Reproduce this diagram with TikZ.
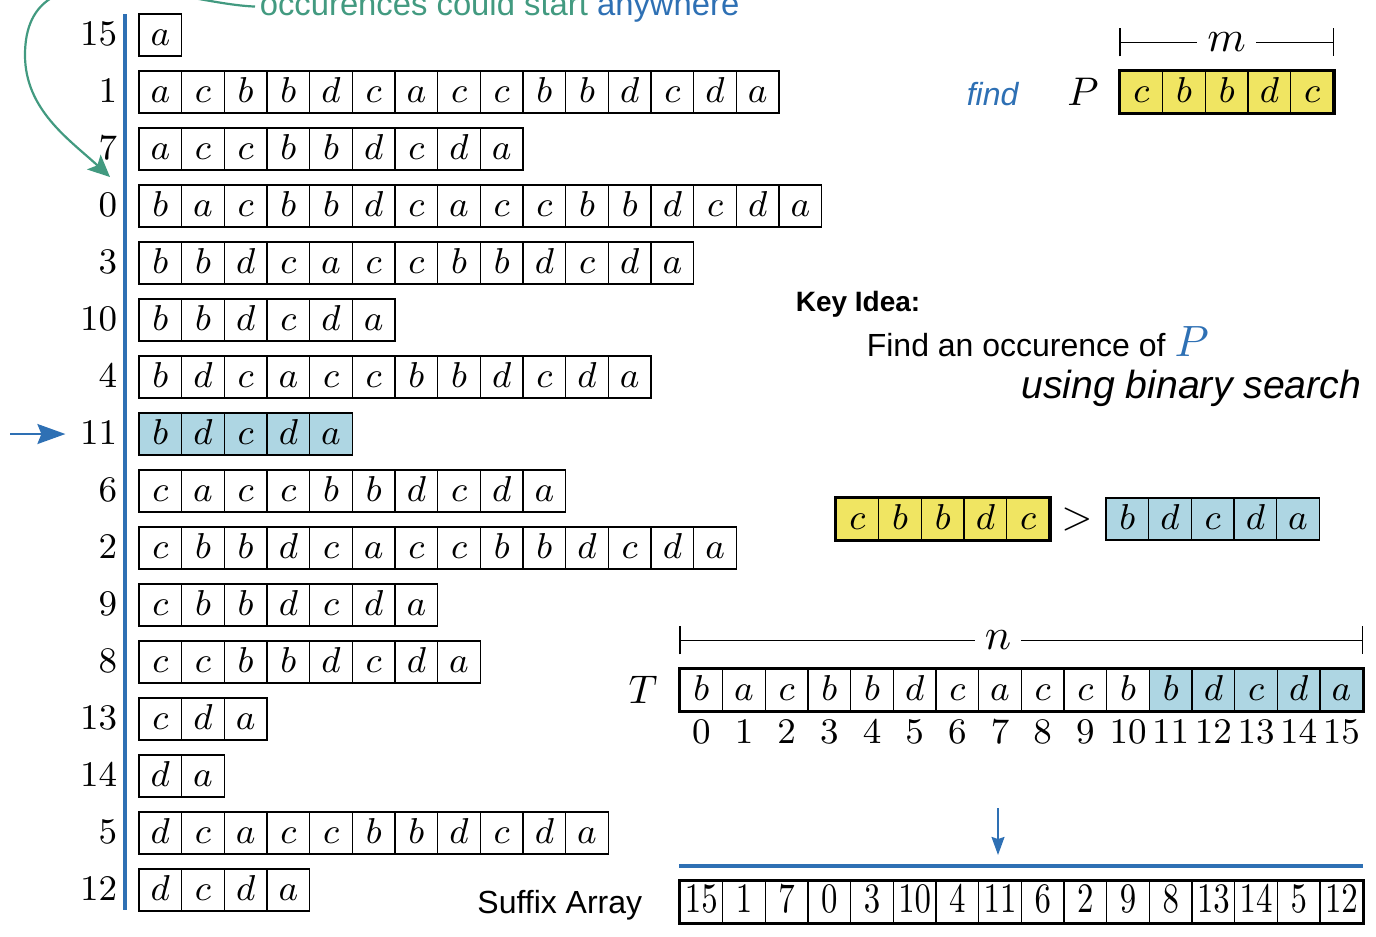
\documentclass[tikz,border=0pt]{standalone}
\usepackage{graphicx}
\usepackage{fontspec}
\newfontfamily\helv{Liberation Sans}
\usetikzlibrary{arrows.meta,calc,positioning}

\definecolor{sablue}{RGB}{46,112,180}
\definecolor{sagreen}{RGB}{66,154,128}
\definecolor{cellblue}{RGB}{174,214,227}
\definecolor{cellyellow}{RGB}{240,229,98}

\tikzset{
  cell/.style={draw,line width=.35pt,minimum width=10.67pt,minimum height=10.5pt,inner sep=0pt,
    text height=6.25pt,text depth=1pt,font=\fontsize{9}{11}\selectfont},
  hit/.style={cell,fill=cellblue},
  pat/.style={cell,fill=cellyellow},
  frame/.style={line width=.85pt},
  lab/.style={inner sep=0pt,text height=6.25pt,text depth=1pt,font=\fontsize{9}{11}\selectfont},
  sym/.style={inner sep=0pt,font=\fontsize{10}{12}\selectfont},
  dim/.style={line width=.35pt,{Bar[width=7pt]}-{Bar[width=7pt]}},
  gap/.style={fill=white,inner sep=2.5pt,font=\fontsize{11}{13}\selectfont},
  sans/.style={inner sep=0pt,font=\helv\fontsize{8}{10}\selectfont},
}
\def\Tstr{{"b","a","c","b","b","d","c","a","c","c","b","b","d","c","d","a"}}

\begin{document}
\begin{tikzpicture}[x=0.25pt,y=-0.25pt]
\clip (0,0) rectangle (1376,936);

% sorted suffixes
\draw[sablue,line width=1pt] (125,14) -- (125,910);
\foreach \s [count=\r from 0] in {15,1,7,0,3,10,4,11,6,2,9,8,13,14,5,12}{
  \node[lab,anchor=east] (l\r) at (118,{35+57*\r}) {$\s$};
  \ifnum\s=11 \tikzset{cur/.style={hit}}\else\tikzset{cur/.style={cell}}\fi
  \foreach \j in {\s,...,15}{
    \pgfmathtruncatemacro\k{\j-\s}
    \pgfmathparse{\Tstr[\j]}\let\ch\pgfmathresult
    \node[cur] (s\r-\k) at ({160.33+42.67*\k},{35+57*\r}) {$\ch$};
  }
}

% remark on top
\node[sans,anchor=base west,inner xsep=1pt,text=sagreen,font=\helv\fontsize{8.2}{10}\selectfont] (occ) at (255,15)
  {occurences could start \textcolor{sablue}{anywhere}};
\coordinate (gtip) at (110,177);
\draw[sagreen,line width=.55pt,-{Stealth[length=5.5pt,width=5pt,inset=1.2pt]}]
  (occ.west) .. controls (180,4) and (25,-60) .. (25,55) .. controls (25,110) and (70,140) .. (gtip);

\coordinate (a11) at (10,434);
\draw[sablue,line width=.5pt,-{Stealth[length=7pt,width=5pt,inset=1pt]},shorten >=3.5pt] (a11) -- (l7);

% pattern
\node[sans,anchor=base west,text=sablue,font=\helv\itshape\fontsize{8}{10}\selectfont] (find) at (966,105) {find};
\node[sym] (plab) at (1083,92) {$P$};
\foreach \c [count=\k from 0] in {c,b,b,d,c}
  \node[pat] (p\k) at ({1141.33+42.67*\k},92) {$\c$};
\draw[frame] (p0.north west) rectangle (p4.south east);
\draw[dim] ($(p0.north west)+(0,-28)$) -- node[gap] (m) {$m$} ($(p4.north east)+(0,-28)$);

% key idea
\node[sans,anchor=base west,font=\helv\bfseries\fontsize{7}{9}\selectfont] (key) at (795,311) {Key Idea:};
\node[sans,anchor=base west] (idea) at (866,356)
  {Find an occurence of \textcolor{sablue}{\fontsize{11}{13}\selectfont$P$}};
\node[sans,anchor=base east,font=\helv\itshape\fontsize{9.8}{12}\selectfont] (bin) at (1362,398) {using binary search};

% comparison
\foreach \c [count=\k from 0] in {c,b,b,d,c}
  \node[pat] (cy\k) at ({857.33+42.67*\k},519) {$\c$};
\draw[frame] (cy0.north west) rectangle (cy4.south east);
\node[sym] (gt) at (1077,519) {$>$};
\foreach \c [count=\k from 0] in {b,d,c,d,a}
  \node[hit] (cb\k) at ({1127.33+42.67*\k},519) {$\c$};

% text T
\node[sym] (tlab) at (643,690) {$T$};
\foreach \c [count=\j from 0] in {b,a,c,b,b,d,c,a,c,c,b,b,d,c,d,a}{
  \ifnum\j>10 \tikzset{cur/.style={hit}}\else\tikzset{cur/.style={cell}}\fi
  \node[cur] (t\j) at ({701.33+42.67*\j},690) {$\c$};
  \node[lab] (ti\j) at ({701.33+42.67*\j},733) {$\j$};
}
\draw[frame] (t0.north west) rectangle (t15.south east);
\draw[dim] ($(t0.north west)+(0,-28)$) -- node[gap,pos=.466] (n) {$n$} ($(t15.north east)+(0,-28)$);

% suffix array
\coordinate (d0) at (998,808);
\coordinate (d1) at (998,855);
\draw[sablue,line width=.6pt,-{Stealth[length=4.5pt,width=3.2pt,inset=.5pt]}] (d0) -- (d1);
\foreach \v [count=\j from 0] in {15,1,7,0,3,10,4,11,6,2,9,8,13,14,5,12}
  \node[cell,font=\fontsize{10}{12}\selectfont] (sa\j) at ({701.33+42.67*\j},902) {\scalebox{.82}[1.05]{$\v$}};
\draw[frame] (sa0.north west) rectangle (sa15.south east);
\draw[sablue,line width=1pt] ($(sa0.north west)+(0,-14)$) -- ($(sa15.north east)+(0,-14)$);
\node[sans,anchor=base east] (salab) at (643,913) {Suffix Array};
\end{tikzpicture}
\end{document}
